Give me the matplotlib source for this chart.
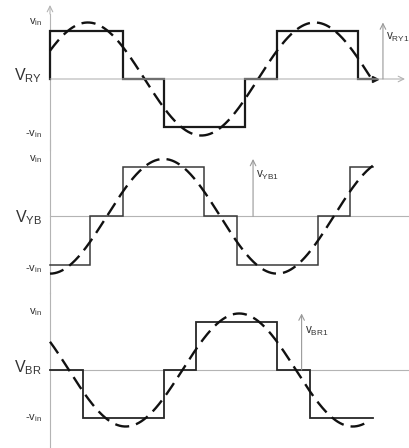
# six-step line voltages with their fundamentals (dashed)
import numpy as np
import matplotlib.pyplot as plt

plt.rcParams["font.family"] = ["Liberation Sans", "DejaVu Sans"]
plt.rcParams["mathtext.fontset"] = "custom"
plt.rcParams["mathtext.rm"] = "Liberation Sans"
plt.rcParams["mathtext.it"] = "Liberation Sans"

# --- data (angle in degrees, voltage in units of v_in) ---
names = ["RY", "YB", "BR"]

ry_edges = [0, 116, 180, 309, 360, 489, 515]
ry_levels = [1, 0, -1, 0, 1, 0]
yb_edges = [0, 63, 116, 244, 296, 425, 476, 513]
yb_levels = [-1, 0, 1, 0, -1, 0, 1]
br_edges = [0, 52, 180, 232, 360, 412, 513]
br_levels = [0, -1, 0, 1, 0, -1]

fund_amp = 1.17
fund_phase = [30, -90, 150]      # degrees
fund_end = [511, 515, 507]       # where the dashed curve stops
fund_arrow_at = [528, 322, 399]  # position of the v_xx1 arrow

# --- layout (pixels of the 409x448 picture) ---
W, H = 409, 448
X0_PX = 50
PX_PER_DEG = 0.6306
# zero line, px per v_in, top, bottom
panels = [(79, 48.3, 0, 150), (216.3, 49.0, 140, 293), (370, 48.3, 293, 448)]
lab_dy = [(1.18, 0.06, -1.14), (1.17, -0.02, -1.08), (1.20, 0.05, -1.0)]
arrow_lab_y = [0.87, 0.84, 0.79]
step_lw = [1.6, 1.1, 1.3]
step_col = ["#1a1a1a", "#3a3a3a", "#262626"]

AX_COL = "#b4b4b4"
TXT_COL = "#333333"

edges_all = [ry_edges, yb_edges, br_edges]
levels_all = [ry_levels, yb_levels, br_levels]

fig = plt.figure(figsize=(W / 100, H / 100), dpi=100)
xlim = (-X0_PX / PX_PER_DEG, (W - X0_PX) / PX_PER_DEG)

for i, name in enumerate(names):
    zero, vpx, top, bot = panels[i]
    ax = fig.add_axes([0, 1 - bot / H, 1, (bot - top) / H])
    ax.set_xlim(*xlim)
    ylo, yhi = (zero - bot) / vpx, (zero - top) / vpx
    ax.set_ylim(ylo, yhi)
    ax.axis("off")

    # axes
    if i == 0:
        ax.plot([0, 0], [ylo, (zero - 14) / vpx], color=AX_COL, lw=0.8, clip_on=False)
        ax.annotate("", xy=(0, (zero - 5) / vpx), xytext=(0, (zero - 14) / vpx),
                    arrowprops=dict(arrowstyle="->", color=AX_COL, lw=0.8,
                                    shrinkA=0, shrinkB=0))
        ax.annotate("", xy=(xlim[1] - 4 / PX_PER_DEG, 0), xytext=(0, 0),
                    arrowprops=dict(arrowstyle="->", color=AX_COL, lw=0.8,
                                    shrinkA=0, shrinkB=0))
    else:
        ax.plot([0, 0], [ylo, yhi], color=AX_COL, lw=0.8, clip_on=False)
        ax.plot([0, xlim[1]], [0, 0], color=AX_COL, lw=0.8)

    # six-step waveform
    e = np.array(edges_all[i], dtype=float)
    lv = np.array(levels_all[i], dtype=float)
    xs = np.repeat(e, 2)[1:-1]
    ys = np.repeat(lv, 2)
    if i == 0:
        xs = np.r_[e[0], xs]
        ys = np.r_[0, ys]
    ax.plot(xs, ys, color=step_col[i], lw=step_lw[i], solid_joinstyle="miter")
    if i == 0:
        ax.plot(e[-1], lv[-1], marker=">", ms=4, color=step_col[i])

    # fundamental
    th = np.linspace(0, fund_end[i], 400)
    ax.plot(th, fund_amp * np.sin(np.deg2rad(th + fund_phase[i])),
            color="#111111", lw=1.7, dashes=(6, 3))

    # fundamental arrow and label
    xa = fund_arrow_at[i]
    ax.annotate("", xy=(xa, fund_amp), xytext=(xa, 0),
                arrowprops=dict(arrowstyle="->", color="#999999", lw=0.8,
                                shrinkA=0, shrinkB=0))
    ax.text(xa + 3 / PX_PER_DEG, arrow_lab_y[i],
            r"$\mathrm{v}_{\mathrm{%s1}}$" % name,
            fontsize=8.5, color=TXT_COL, ha="left", va="center", clip_on=False)

    # left labels
    xl = -8 / PX_PER_DEG
    d_top, d_mid, d_bot = lab_dy[i]
    ax.text(xl, d_top, r"$\mathrm{v}_{\mathrm{in}}$", fontsize=8,
            color=TXT_COL, ha="right", va="center")
    ax.text(xl, d_mid, r"$\mathrm{V}_{\mathrm{%s}}$" % name, fontsize=11.5,
            color=TXT_COL, ha="right", va="center")
    ax.text(xl, d_bot, r"-$\mathrm{v}_{\mathrm{in}}$", fontsize=8,
            color=TXT_COL, ha="right", va="center")

fig.savefig("out.png", dpi=100)
